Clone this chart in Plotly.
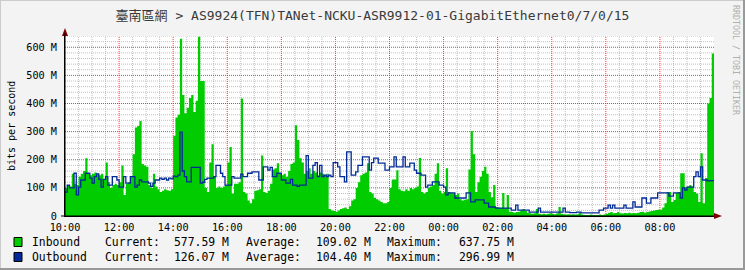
import plotly.graph_objects as go
import pandas as pd

# ---------------- data (Mbit/s, 5-minute steps from 10:00) ----------------
start_time = "2024-01-01 10:00"
step = "5min"

inbound = [
    100, 110, 105, 150, 115, 110, 140, 150, 160, 205, 150, 145,   # 10
    150, 155, 150, 145, 150, 130, 190, 120, 100, 110, 115, 110,   # 11
    120, 180, 75, 115, 120, 140, 220, 315, 320, 338, 185, 180,    # 12
    175, 110, 100, 150, 105, 95, 85, 90, 95, 92, 90, 95,          # 13
    285, 350, 360, 630, 430, 365, 385, 420, 430, 370, 410, 637,   # 14
    480, 480, 100, 85, 190, 255, 140, 100, 105, 100, 105, 110,    # 15
    190, 245, 80, 115, 115, 120, 418, 85, 80, 55, 45, 60,         # 16
    90, 92, 95, 215, 85, 82, 90, 115, 165, 170, 188, 150,         # 17
    145, 150, 140, 160, 185, 190, 323, 270, 205, 190, 150, 160,   # 18
    170, 150, 160, 155, 145, 155, 150, 145, 150, 25, 20, 18,      # 19
    15, 20, 25, 28, 30, 25, 35, 55, 60, 100, 120, 145,            # 20
    150, 155, 188, 85, 80, 65, 60, 55, 50, 45, 45, 50,            # 21
    100, 130, 130, 163, 95, 90, 88, 95, 90, 100, 95, 100,         # 22
    105, 206, 85, 80, 85, 100, 105, 110, 150, 188, 90, 80,        # 23
    85, 170, 85, 82, 80, 75, 80, 60, 55, 58, 60, 165,             # 00
    302, 220, 85, 120, 140, 160, 175, 150, 85, 67, 110, 32,       # 01
    30, 28, 82, 28, 75, 15, 14, 12, 14, 15, 20, 25,               # 02
    18, 12, 10, 8, 10, 25, 8, 6, 8, 6, 8, 10,                     # 03
    8, 6, 10, 32, 8, 6, 5, 6, 5, 6, 5, 6,                         # 04
    12, 5, 4, 4, 4, 5, 4, 4, 4, 5, 4, 5,                          # 05
    8, 12, 14, 10, 11, 14, 10, 9, 11, 10, 12, 10,                 # 06
    11, 10, 12, 14, 15, 12, 14, 16, 18, 20, 21, 22,               # 07
    22, 30, 45, 85, 85, 50, 57, 82, 85, 152, 152, 103,            # 08
    105, 110, 105, 85, 80, 50, 223, 45, 135, 400, 420, 578,       # 09
]

outbound = [
    85, 110, 100, 100, 152, 75, 103, 128, 128, 152, 152, 135,     # 10
    117, 140, 150, 130, 103, 130, 140, 110, 110, 140, 140, 128,   # 11
    103, 103, 140, 117, 117, 140, 140, 103, 110, 128, 121, 121,   # 12
    121, 117, 105, 117, 128, 128, 135, 130, 135, 128, 135, 132,   # 13
    142, 140, 145, 298, 160, 140, 121, 121, 173, 173, 173, 173,   # 14
    117, 120, 130, 135, 135, 135, 140, 180, 180, 152, 140, 110,   # 15
    110, 110, 140, 135, 135, 135, 149, 140, 140, 152, 152, 157,   # 16
    157, 157, 128, 128, 175, 175, 163, 173, 140, 140, 152, 152,   # 17
    128, 128, 117, 117, 130, 110, 110, 105, 110, 110, 110, 215,   # 18
    135, 135, 180, 190, 140, 180, 140, 145, 140, 145, 140, 190,   # 19
    190, 175, 140, 140, 121, 228, 228, 145, 145, 157, 180, 180,   # 20
    210, 210, 210, 163, 190, 206, 206, 188, 188, 188, 163, 163,   # 21
    175, 175, 210, 175, 175, 175, 210, 175, 175, 188, 188, 163,   # 22
    152, 152, 145, 145, 103, 110, 110, 121, 121, 121, 110, 110,   # 23
    103, 75, 82, 82, 82, 64, 64, 64, 64, 64, 82, 82,              # 00
    50, 50, 57, 57, 57, 57, 46, 46, 32, 32, 32, 28,               # 01
    28, 28, 28, 28, 28, 28, 21, 21, 39, 21, 21, 21,               # 02
    21, 21, 14, 14, 14, 14, 28, 14, 14, 14, 14, 14,               # 03
    14, 14, 14, 14, 14, 28, 14, 14, 12, 12, 12, 14,               # 04
    14, 11, 11, 11, 11, 11, 11, 11, 11, 21, 21, 28,               # 05
    28, 39, 28, 39, 28, 28, 28, 28, 39, 28, 28, 28,               # 06
    50, 32, 32, 32, 64, 64, 46, 46, 64, 64, 64, 82,               # 07
    82, 82, 82, 82, 71, 71, 82, 82, 82, 64, 100, 92,              # 08
    103, 103, 103, 140, 157, 140, 175, 128, 128, 125, 126, 126,   # 09
]

y_tick_vals = [0, 100, 200, 300, 400, 500, 600]
y_tick_text = ["0", "100 M", "200 M", "300 M", "400 M", "500 M", "600 M"]
x_tick_labels = ["10:00", "12:00", "14:00", "16:00", "18:00", "20:00",
                 "22:00", "00:00", "02:00", "04:00", "06:00", "08:00"]

title_text = "臺南區網 > AS9924(TFN)TANet-NCKU-ASR9912-01-GigabitEthernet0/7/0/15"
legend_rows = [
    ("Inbound", "#00CC00", "577.59 M", "109.02 M", "637.75 M"),
    ("Outbound", "#002A97", "126.07 M", "104.40 M", "296.99 M"),
]
y_max = 640

# ---------------- layout constants (pixels) ----------------
W, H = 745, 270
L, R, T, B = 65, 31, 36, 54
PW, PH = W - L - R, H - T - B
Y0 = H - B


def px(X):
    return (X - L) / PW


def py(Y):
    return (Y0 - Y) / PH


times = pd.date_range(start_time, periods=len(inbound), freq=step)
t_end = times[-1] + pd.Timedelta(step)
t_ext = list(times) + [t_end]
in_ext = inbound + [inbound[-1]]
out_ext = outbound + [outbound[-1]]
x_tick_vals = [times[0] + pd.Timedelta(hours=2 * i) for i in range(len(x_tick_labels))]

MONO = "DejaVu Sans Mono, Noto Sans CJK TC, monospace"
MAJOR_GRID = "rgba(255,40,40,0.95)"
MINOR_GRID = "rgba(150,150,150,0.6)"
GRID_DASH = "1px,1px"

fig = go.Figure()
fig.add_trace(go.Scatter(
    x=t_ext, y=in_ext, mode="lines", line=dict(width=0, shape="hv", color="#00CC00"),
    fill="tozeroy", fillcolor="#00CC00", hoverinfo="skip", showlegend=False))
fig.add_trace(go.Scatter(
    x=t_ext, y=out_ext, mode="lines", line=dict(width=1.3, shape="hv", color="#002A97"),
    hoverinfo="skip", showlegend=False))

fig.update_layout(
    width=W, height=H,
    margin=dict(l=L, r=R, t=T, b=B, pad=0),
    paper_bgcolor="#F3F3F3", plot_bgcolor="#FFFFFF",
    font=dict(family=MONO, size=10, color="#000000"),
    title=dict(text=title_text, x=0.5, xref="container", xanchor="center",
               y=1 - 15 / H, yref="container", yanchor="middle",
               font=dict(family=MONO, size=13, color="#3a3a3a")),
    xaxis=dict(
        type="date", range=[times[0], t_end],
        tickvals=x_tick_vals, ticktext=x_tick_labels,
        showgrid=False,
        showline=True, linecolor="#000000", linewidth=1,
        ticks="", zeroline=False, tickfont=dict(size=10.2),
        ticklabelstandoff=2,
    ),
    yaxis=dict(
        range=[0, y_max], tickvals=y_tick_vals, ticktext=y_tick_text,
        showgrid=False,
        showline=True, linecolor="#000000", linewidth=1,
        ticks="", zeroline=False, tickfont=dict(size=10.2),
        ticklabelstandoff=5,
    ),
)

shapes = []
annotations = []

# grid: minor grey dotted every 30 min / 20 M, major red dotted every 2 h / 100 M
n_half_hours = int((t_end - times[0]) / pd.Timedelta(minutes=30))
for k in range(1, n_half_hours):
    tv = times[0] + pd.Timedelta(minutes=30 * k)
    major = (k % 4 == 0)
    shapes.append(dict(type="line", xref="x", yref="paper", layer="below",
                       x0=tv, x1=tv, y0=0, y1=1,
                       line=dict(color=MAJOR_GRID if major else MINOR_GRID, width=1, dash=GRID_DASH)))
for v in range(20, y_max + 1, 20):
    major = (v % 100 == 0)
    shapes.append(dict(type="line", xref="paper", yref="y", layer="below",
                       x0=0, x1=1, y0=v, y1=v,
                       line=dict(color=MAJOR_GRID if major else MINOR_GRID, width=1, dash=GRID_DASH)))

# axis arrows
shapes.append(dict(type="path", xref="paper", yref="paper", layer="above",
                   path=f"M {px(L-3)} {py(36)} L {px(L+3)} {py(36)} L {px(L)} {py(28)} Z",
                   fillcolor="#7F0000", line=dict(width=0)))
shapes.append(dict(type="line", xref="paper", yref="paper", layer="above",
                   x0=px(L), x1=px(L), y0=py(Y0), y1=py(33), line=dict(color="#000000", width=1)))
shapes.append(dict(type="line", xref="paper", yref="paper", layer="above",
                   x0=px(61), x1=px(716), y0=py(Y0), y1=py(Y0), line=dict(color="#000000", width=1)))
shapes.append(dict(type="path", xref="paper", yref="paper", layer="above",
                   path=f"M {px(714)} {py(Y0-3)} L {px(714)} {py(Y0+3)} L {px(722)} {py(Y0)} Z",
                   fillcolor="#7F0000", line=dict(width=0)))

# image frame (shade)
shapes.append(dict(type="line", xref="paper", yref="paper", x0=px(0), x1=px(W), y0=py(0.5), y1=py(0.5),
                   line=dict(color="#CBCBCB", width=1)))
shapes.append(dict(type="line", xref="paper", yref="paper", x0=px(0.5), x1=px(0.5), y0=py(0), y1=py(H),
                   line=dict(color="#CBCBCB", width=1)))
shapes.append(dict(type="line", xref="paper", yref="paper", x0=px(0), x1=px(W), y0=py(H - 1), y1=py(H - 1),
                   line=dict(color="#999999", width=2)))
shapes.append(dict(type="line", xref="paper", yref="paper", x0=px(W - 1), x1=px(W - 1), y0=py(0), y1=py(H),
                   line=dict(color="#999999", width=2)))

# y-axis unit label
annotations.append(dict(text="bits per second", xref="paper", yref="paper", x=px(11), y=py(126),
                        showarrow=False, textangle=-90, font=dict(family=MONO, size=10, color="#000000"),
                        xanchor="center", yanchor="middle"))
# watermark
annotations.append(dict(text="RRDTOOL / TOBI OETIKER", xref="paper", yref="paper", x=px(736), y=py(60),
                        showarrow=False, textangle=90, font=dict(family=MONO, size=8.3, color="#B0B0B0"),
                        xanchor="center", yanchor="middle"))

# legend
row_y = [242, 257]
col_x = [30, 103, 172, 244, 314, 385, 457]
for (name, color, cur, avg, mx), yy in zip(legend_rows, row_y):
    shapes.append(dict(type="rect", xref="paper", yref="paper",
                       x0=px(14), x1=px(22), y0=py(yy - 4.5), y1=py(yy + 4.5),
                       fillcolor=color, line=dict(color="#000000", width=1)))
    for txt, xx in zip([name, "Current:", cur, "Average:", avg, "Maximum:", mx], col_x):
        annotations.append(dict(text=txt, xref="paper", yref="paper", x=px(xx), y=py(yy),
                                showarrow=False, xanchor="left", yanchor="middle",
                                font=dict(family=MONO, size=11.4, color="#000000")))

fig.update_layout(shapes=shapes, annotations=annotations)
fig.write_html("out.html")
